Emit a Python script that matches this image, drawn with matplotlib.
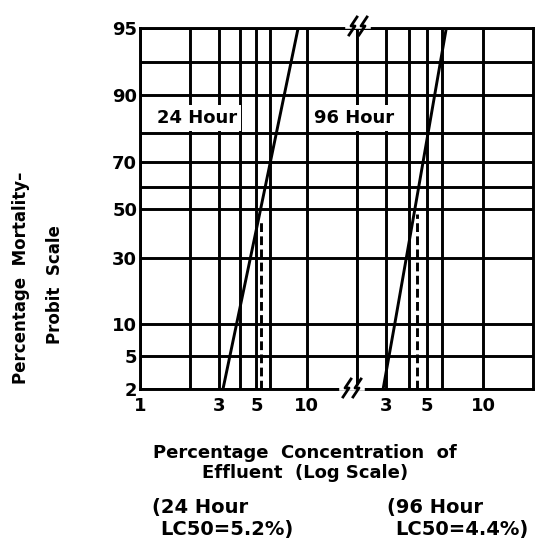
import numpy as np
import matplotlib
matplotlib.use("Agg")
from matplotlib import pyplot as plt
from matplotlib.ticker import FixedLocator, NullLocator
from matplotlib.lines import Line2D

# probit-like grid as drawn on the original (percent -> height on the paper)
pct_levels = [2, 5, 10, 30, 50, 60, 70, 80, 90, 93, 95]
pct_pos = [0, 33, 65, 131, 180, 202, 227, 256, 294, 327, 361]
pct_labels = ["2", "5", "10", "30", "50", "", "70", "", "90", "", "95"]

# x grid / labels for the two broken panels
left_grid = [1, 2, 3, 4, 5, 6, 10]
left_labels = ["1", "", "3", "", "5", "", "10"]
right_grid = [3, 4, 5, 6, 10]
right_labels = ["3", "", "5", "", "10"]

# fitted probit lines
conc_24h = [3.15, 3.8, 5.3, 8.9]
mort_24h = [2, 10, 50, 95]
conc_96h = [2.9, 3.35, 4.3, 6.35]
mort_96h = [2, 10, 50, 95]

# LC50 drop lines
lc50_24h_x = 5.35
lc50_24h_top = 46
lc50_96h_x = 4.4
lc50_96h_top = 48


def fwd(p):
    return np.interp(p, pct_levels, pct_pos)


def inv(v):
    return np.interp(v, pct_pos, pct_levels)


W, H = 547, 548
fig = plt.figure(figsize=(W / 100, H / 100), dpi=100)
fig.patch.set_facecolor("white")

bold = dict(fontweight="bold", family="DejaVu Sans")
lw = 2.1

y0 = 1 - 389 / H
hh = (389 - 28) / H
axL = fig.add_axes([140 / W, y0, (356.7 - 140) / W, hh])
axR = fig.add_axes([356.7 / W, y0, (533 - 356.7) / W, hh])

for ax, xlim, grid, labels in [(axL, (1, 20), left_grid, left_labels),
                               (axR, (2.09, 18.6), right_grid, right_labels)]:
    ax.set_xscale("log")
    ax.set_yscale("function", functions=(fwd, inv))
    ax.set_xlim(*xlim)
    ax.set_ylim(2, 95)
    ax.xaxis.set_major_locator(FixedLocator(grid))
    ax.xaxis.set_minor_locator(NullLocator())
    ax.set_xticklabels(labels)
    ax.yaxis.set_major_locator(FixedLocator(pct_levels))
    ax.yaxis.set_minor_locator(NullLocator())
    ax.grid(True, color="black", lw=lw)
    ax.tick_params(length=0, labelsize=13)
    ax.tick_params(axis="x", pad=6)
    ax.tick_params(axis="y", pad=2)
    for lab in ax.get_xticklabels() + ax.get_yticklabels():
        lab.set_fontweight("bold")
    for s in ax.spines.values():
        s.set_linewidth(lw)

axL.set_yticklabels(pct_labels)
axR.set_yticklabels([])

axL.plot(conc_24h, mort_24h, color="black", lw=lw)
axR.plot(conc_96h, mort_96h, color="black", lw=lw)
axL.plot([lc50_24h_x, lc50_24h_x], [2, lc50_24h_top], color="black", lw=lw, dashes=(3, 1.5))
axR.plot([lc50_96h_x, lc50_96h_x], [2, lc50_96h_top], color="black", lw=lw, dashes=(3, 1.5))

box = dict(boxstyle="square,pad=0.22", fc="white", ec="none")
axL.text(2.21, 84, "24 Hour", ha="center", va="center", fontsize=13, bbox=box, **bold)
axR.text(2.02, 84, "96 Hour", ha="center", va="center", fontsize=13, bbox=box,
         clip_on=False, zorder=5, **bold)


# break marks on the top and bottom edges
def px(x, y):
    return x / W, 1 - y / H


def zigzag(cx, cy):
    fig.add_artist(Line2D(*zip(px(cx - 10, cy), px(cx + 10, cy)),
                          color="white", lw=4, transform=fig.transFigure))
    for dx in (-5, 5):
        pts = [(dx + 4, -9), (dx - 2, 0), (dx + 2, 0), (dx - 4, 9)]
        xs, ys = zip(*[px(cx + a, cy + b) for a, b in pts])
        fig.add_artist(Line2D(xs, ys, color="black", lw=2, transform=fig.transFigure))


zigzag(358, 26)
zigzag(352, 388)

# axis titles
fig.text(21 / W, 1 - 278 / H, "Percentage  Mortality\u2013", rotation=90,
         ha="center", va="center", fontsize=12, **bold)
fig.text(55 / W, 1 - 285 / H, "Probit  Scale", rotation=90,
         ha="center", va="center", fontsize=12, **bold)
fig.text(305 / W, 1 - 453 / H, "Percentage  Concentration  of", ha="center",
         va="center", fontsize=13, **bold)
fig.text(305 / W, 1 - 473 / H, "Effluent  (Log Scale)", ha="center",
         va="center", fontsize=13, **bold)

fig.text(152 / W, 1 - 508 / H, "(24 Hour", ha="left", va="center", fontsize=14, **bold)
fig.text(160 / W, 1 - 530 / H, "LC50=5.2%)", ha="left", va="center", fontsize=14, **bold)
fig.text(387 / W, 1 - 508 / H, "(96 Hour", ha="left", va="center", fontsize=14, **bold)
fig.text(395 / W, 1 - 530 / H, "LC50=4.4%)", ha="left", va="center", fontsize=14, **bold)

fig.savefig("out.png", dpi=100, facecolor="white")
